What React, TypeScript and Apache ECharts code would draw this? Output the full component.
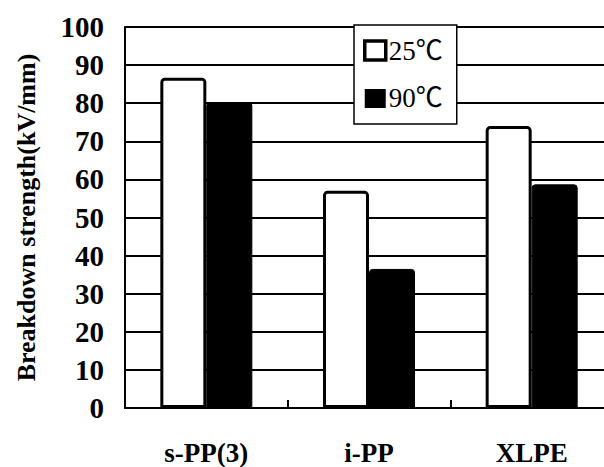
import React, { useEffect, useRef } from "react";
import * as echarts from "echarts";

const categories = ["s-PP(3)", "i-PP", "XLPE"];
const seriesNames = ["25℃", "90℃"];
const values25 = [86.7, 57, 74];
const values90 = [80.3, 36.5, 58.7];
const yTicks = { min: 0, max: 100, interval: 10 };

export default function App() {
  const ref = useRef<HTMLDivElement>(null);
  useEffect(() => {
    if (!ref.current) return;
    const chart = echarts.init(ref.current, null, { renderer: "svg" });
    const font = "'Liberation Serif', 'Times New Roman', 'Noto Sans CJK JP', serif";
    chart.setOption({
      animation: false,
      backgroundColor: "#ffffff",
      textStyle: { fontFamily: font },
      grid: { left: 125, right: 7, top: 27, bottom: 59, containLabel: false },
      legend: {
        orient: "vertical",
        left: 354,
        top: 25,
        padding: [12, 14, 12, 9],
        itemGap: 21,
        itemWidth: 21,
        itemHeight: 19,
        backgroundColor: "#ffffff",
        borderColor: "#000000",
        borderWidth: 1.5,
        borderRadius: 0,
        icon: "rect",
        textStyle: { fontFamily: font, fontSize: 27, color: "#000", padding: [0, 0, 0, -2] },
        data: [
          { name: seriesNames[0], itemStyle: { color: "#fff", borderColor: "#000", borderWidth: 3.5 } },
          { name: seriesNames[1], itemStyle: { color: "#000", borderColor: "#000", borderWidth: 0 } },
        ],
      },
      xAxis: {
        type: "category",
        data: categories,
        axisLine: { show: true, lineStyle: { color: "#000", width: 2 } },
        axisTick: { show: true, inside: true, length: 8, alignWithLabel: false, lineStyle: { color: "#000", width: 2 } },
        axisLabel: { fontFamily: font, fontSize: 27, fontWeight: "bold", color: "#000", margin: 31 },
        splitLine: { show: false },
      },
      yAxis: {
        type: "value",
        min: yTicks.min,
        max: yTicks.max,
        interval: yTicks.interval,
        name: "Breakdown strength(kV/mm)",
        nameLocation: "middle",
        nameGap: 86,
        nameRotate: 90,
        nameTextStyle: { fontFamily: font, fontSize: 26, fontWeight: "bold", color: "#000" },
        axisLine: { show: true, lineStyle: { color: "#000", width: 2 } },
        axisTick: { show: false },
        axisLabel: { fontFamily: font, fontSize: 29, fontWeight: "bold", color: "#000", margin: 21 },
        splitLine: { show: true, lineStyle: { color: "#000", width: 1.8 } },
      },
      series: [
        {
          name: seriesNames[0],
          type: "bar",
          data: values25,
          barWidth: 46,
          barGap: "0%",
          itemStyle: { color: "#fff", borderColor: "#000", borderWidth: 3, borderRadius: [3, 3, 0, 0] },
        },
        {
          name: seriesNames[1],
          type: "bar",
          data: values90,
          barWidth: 46,
          barGap: "0%",
          itemStyle: { color: "#000", borderColor: "#000", borderWidth: 1, borderRadius: [3, 3, 0, 0] },
        },
      ],
    });
    return () => chart.dispose();
  }, []);
  return (
    <div style={{ position: "fixed", left: 0, top: 0, width: 604, height: 467, overflow: "hidden", background: "#fff" }}>
      <div ref={ref} style={{ width: 620, height: 467 }} />
    </div>
  );
}
